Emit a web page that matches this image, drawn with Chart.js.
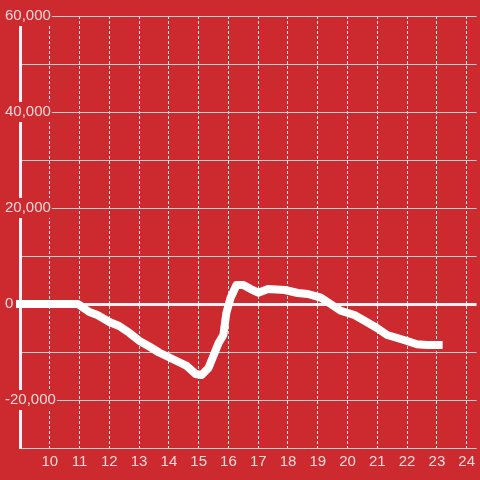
<!DOCTYPE html>
<html>
<head>
<meta charset="utf-8">
<script src="https://cdn.jsdelivr.net/npm/chart.js@4/dist/chart.umd.min.js"></script>
<style>
html,body{margin:0;padding:0;background:#cc2a2f;}
#wrap{width:480px;height:480px;}
</style>
</head>
<body>
<div id="wrap"><canvas id="c" width="480" height="480"></canvas></div>
<script>
const hours = [9.0, 10.93, 11.0, 11.17, 11.33, 11.6, 12.0, 12.33, 12.67, 13.0, 13.33, 13.67, 14.0, 14.33, 14.6, 14.9, 15.1, 15.33, 15.67, 15.83, 15.93, 16.07, 16.27, 16.5, 16.75, 17.0, 17.33, 17.9, 18.33, 18.67, 19.1, 19.43, 19.77, 20.23, 20.57, 21.0, 21.33, 21.67, 22.0, 22.33, 22.67, 23.06];
const values = [0, 0, -200, -1000, -1670, -2300, -3750, -4580, -6000, -7650, -8800, -10100, -11100, -12080, -12900, -14580, -14800, -13330, -8130, -6460, -1880, 1250, 3960, 3960, 3100, 2350, 3125, 2920, 2290, 2080, 1310, 0, -1400, -2290, -3480, -5060, -6460, -7080, -7710, -8400, -8540, -8540];
const xTickLabels = [10, 11, 12, 13, 14, 15, 16, 17, 18, 19, 20, 21, 22, 23, 24];
const yLabelStep = 20000;

const points = hours.map((h, i) => ({x: h, y: values[i]}));
const labelColor = 'rgba(255,255,255,0.82)';
const bg = '#cc2a2f';
const font = { family: 'Liberation Sans, Arial, sans-serif', size: 15 };

new Chart(document.getElementById('c'), {
  type: 'line',
  data: { datasets: [{
    data: points,
    borderColor: '#ffffff',
    borderWidth: 8,
    pointRadius: 0,
    tension: 0,
    borderCapStyle: 'square',
    borderJoinStyle: 'round',
    clip: false
  }]},
  options: {
    responsive: false,
    animation: false,
    layout: { padding: { top: 16, left: 0, right: 0, bottom: 0 } },
    plugins: { legend: { display: false }, tooltip: { enabled: false } },
    scales: {
      x: {
        type: 'linear',
        min: 9,
        max: 9 + 460/30,
        afterBuildTicks: s => { s.ticks = xTickLabels.map(v => ({value: v})); },
        afterFit: s => { s.height = 32; },
        grid: { color: '#e8e8e8', lineWidth: 1, drawTicks: false },
        border: { display: false, dash: [3,2] },
        ticks: { color: labelColor, font: font, padding: 5, maxRotation: 0, autoSkip: false }
      },
      y: {
        min: -30000,
        max: 60000,
        afterFit: s => { s.width = 20; },
        grid: {
          drawTicks: false,
          color: ctx => ctx.tick && ctx.tick.value === 0 ? '#f2f2f2' : '#cccccc',
          lineWidth: ctx => ctx.tick && ctx.tick.value === 0 ? 3 : 1
        },
        border: { display: true, color: '#f4f4f4', width: 3 },
        ticks: {
          stepSize: 10000,
          mirror: true,
          crossAlign: 'near',
          padding: -15,
          color: labelColor,
          font: font,
          callback: v => (v % yLabelStep === 0 ? v.toLocaleString('en-US') : ''),
          showLabelBackdrop: ctx => ctx.tick && ctx.tick.value % yLabelStep === 0,
          backdropColor: bg,
          backdropPadding: 1
        }
      }
    }
  },
  plugins: [{
    id: 'bgfill',
    beforeDraw: ch => { const c = ch.ctx; c.save(); c.fillStyle = bg; c.fillRect(0,0,ch.width,ch.height); c.restore(); }
  }, {
    id: 'dash',
    beforeInit: ch => { ch.options.scales.x.grid.borderDash = [3,2]; }
  }]
});
</script>
</body>
</html>
